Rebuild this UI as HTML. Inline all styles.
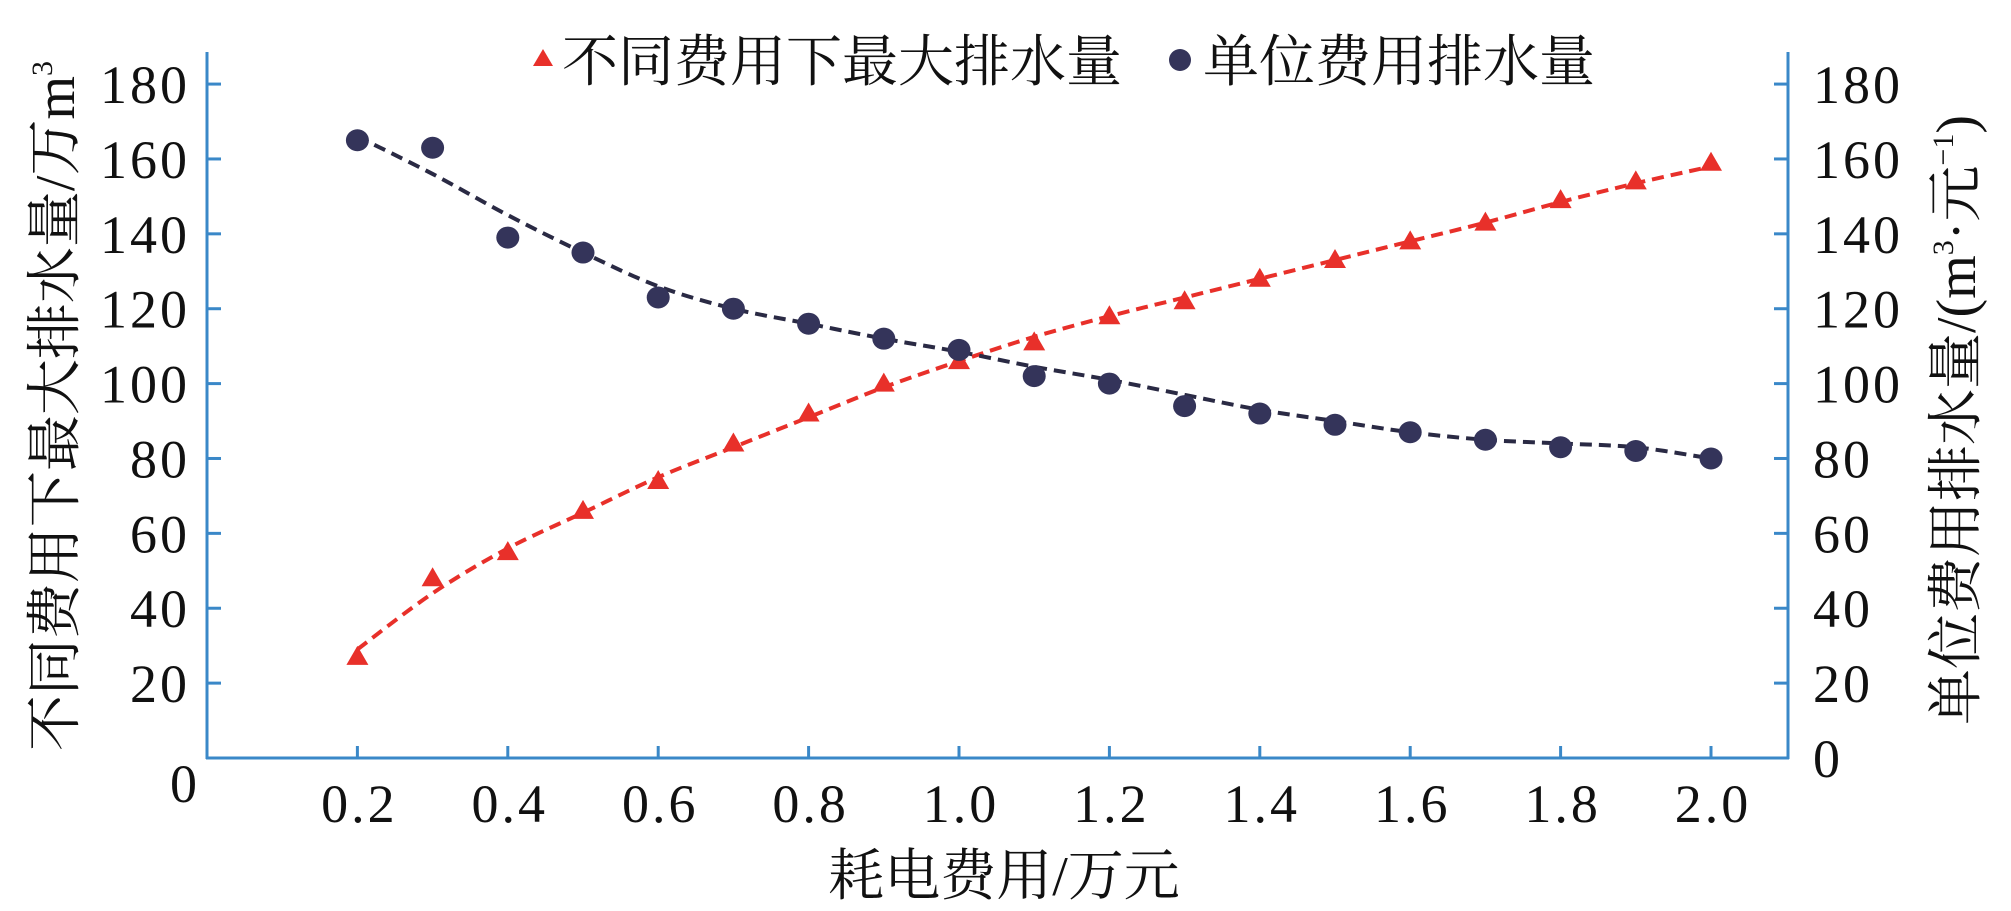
<!DOCTYPE html>
<html><head><meta charset="utf-8"><style>
html,body{margin:0;padding:0;background:#fff;}
svg{display:block;}
.t{font-family:"Liberation Serif",serif;font-size:54px;fill:#111;letter-spacing:3px;}
.c{font-family:"Liberation Serif","Noto Serif CJK SC","Noto Sans CJK SC",serif;font-size:56px;fill:#111;}
</style></head><body>
<svg id="s" width="2011" height="911" xmlns="http://www.w3.org/2000/svg">
<g stroke="#3a88c8" stroke-width="3" fill="none">
<line x1="207" y1="52" x2="207" y2="759"/>
<line x1="1788" y1="52" x2="1788" y2="759"/>
<line x1="206" y1="758" x2="1789" y2="758"/>
</g>
<g id="ticks" stroke="#3a88c8" stroke-width="3"></g>
<g id="labels"></g>
<path id="rl" fill="none" stroke="#e8302a" stroke-width="4" stroke-dasharray="12,7"/>
<path id="bl" fill="none" stroke="#2a2a44" stroke-width="4" stroke-dasharray="12,7"/>
<g id="mk"></g>
<text class="c" transform="translate(74,406) rotate(-90)" text-anchor="middle">不同费用下最大排水量/万m<tspan font-size="30" dy="-22">3</tspan></text>
<text class="c" transform="translate(1975,420) rotate(-90)" text-anchor="middle">单位费用排水量/(m<tspan font-size="30" dy="-22">3</tspan><tspan dy="22">·元</tspan><tspan font-size="30" dy="-22">−1</tspan><tspan dy="22">)</tspan></text>
<text class="c" x="1004" y="895" text-anchor="middle">耗电费用/万元</text>
<polygon points="543,49 533,66 553,66" fill="#e8302a"/>
<text class="c" x="562" y="81">不同费用下最大排水量</text>
<ellipse cx="1180" cy="60" rx="11" ry="11" fill="#34345a"/>
<text class="c" x="1203" y="81">单位费用排水量</text>
</svg>
<script>
var NS="http://www.w3.org/2000/svg";
function X(v){return 207+752*v;}
function Y(v){return 758-v*3.744;}
function el(p,t,a,txt){var e=document.createElementNS(NS,t);for(var k in a)e.setAttribute(k,a[k]);if(txt!==undefined)e.textContent=txt;document.getElementById(p).appendChild(e);}
for(var i=1;i<=9;i++){var y=Y(i*20);
el("ticks","line",{x1:207,y1:y,x2:221,y2:y});el("ticks","line",{x1:1774,y1:y,x2:1788,y2:y});
el("labels","text",{"class":"t",x:190,y:y+19,"text-anchor":"end"},String(i*20));
el("labels","text",{"class":"t",x:1813,y:y+19},String(i*20));}
el("labels","text",{"class":"t",x:200,y:802,"text-anchor":"end"},"0");
el("labels","text",{"class":"t",x:1813,y:777},"0");
for(var i=1;i<=10;i++){var x=X(i*0.2);el("ticks","line",{x1:x,y1:746,x2:x,y2:758});
el("labels","text",{"class":"t",x:x+2,y:822,"text-anchor":"middle"},(i*0.2).toFixed(1));}
var r=[27,48,55,66,74,84,92,100,106,111,118,122,128,133,138,143,149,154,159];
var b=[165,163,139,135,123,120,116,112,109,102,100,94,92,89,87,85,83,82,80];
var rf=[29,44,56,65.5,75,83,91,99,106,112.5,118,123,128,133,138,143,148.5,153.5,158];
var bf=[166,156,145,135,126,120,116,112,108.5,104.5,101,97,93,90,87,85,84,83,80];
function path(a){var p=[];for(var i=0;i<a.length;i++)p.push([X(0.2+0.1*i),Y(a[i])]);
var d="M"+p[0][0]+","+p[0][1];for(var i=0;i<p.length-1;i++){var p0=p[Math.max(i-1,0)],p1=p[i],p2=p[i+1],p3=p[Math.min(i+2,p.length-1)];
d+=" C"+(p1[0]+(p2[0]-p0[0])/6)+","+(p1[1]+(p2[1]-p0[1])/6)+" "+(p2[0]-(p3[0]-p1[0])/6)+","+(p2[1]-(p3[1]-p1[1])/6)+" "+p2[0]+","+p2[1];}return d;}
document.getElementById("rl").setAttribute("d",path(rf));
document.getElementById("bl").setAttribute("d",path(bf));
for(var i=0;i<19;i++){var x=X(0.2+0.1*i);
var y=Y(r[i]);el("mk","polygon",{points:(x)+","+(y-11)+" "+(x-11)+","+(y+8)+" "+(x+11)+","+(y+8),fill:"#e8302a"});
el("mk","ellipse",{cx:x,cy:Y(b[i]),rx:11.5,ry:11,fill:"#34345a"});}
</script>
</body></html>
